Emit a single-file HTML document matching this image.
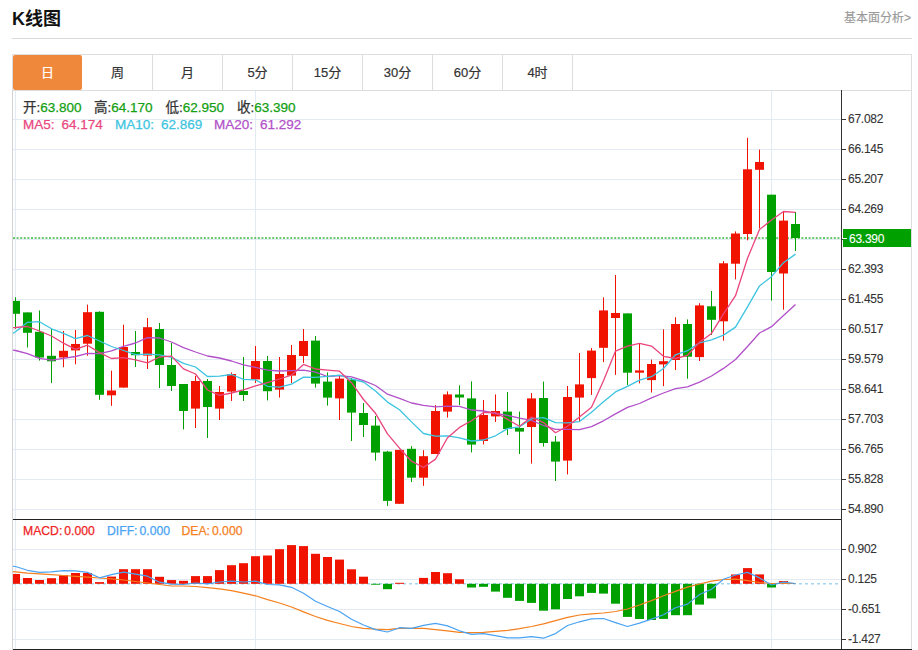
<!DOCTYPE html>
<html><head><meta charset="utf-8"><title>K线图</title>
<style>
*{margin:0;padding:0;box-sizing:border-box}
html,body{width:918px;height:650px;overflow:hidden;background:#fff}
body{position:relative;font-family:"Liberation Sans","Noto Sans CJK SC",sans-serif;color:#333}
.title{position:absolute;left:12px;top:7px;font-size:18px;font-weight:bold;color:#111;line-height:24px}
.more{position:absolute;left:844px;top:10px;font-size:12px;color:#999;line-height:16px;-webkit-text-stroke:0.15px currentColor}
.hr{position:absolute;left:12px;top:38px;width:900px;height:1px;background:#d9d9d9}
.tabs{position:absolute;left:12px;top:54px;width:900px;height:37px;border:1px solid #ddd}
.tab{position:absolute;top:0;width:70px;height:35px;border-right:1px solid #ddd;text-align:center;font-size:13px;line-height:35px;color:#333;-webkit-text-stroke:0.2px currentColor}
.tab.on{background:#f0883b;color:#fff;border-radius:2px;border-right:none;left:0;top:0;width:69px}
.frame{position:absolute;left:12px;top:90px;width:900px;height:560px;border-left:1px solid #d4d4d4;border-right:1px solid #ddd}
svg{position:absolute;left:0;top:0}
.ax{font-size:12px;letter-spacing:-0.25px;fill:#333;stroke:#333;stroke-width:0.1px;font-family:"Liberation Sans",sans-serif}
.info{position:absolute;left:23px;font-size:13.5px;white-space:pre;line-height:16px;-webkit-text-stroke:0.25px currentColor}
.g{color:#12a012}
</style></head><body>
<div class="title">K线图</div>
<div class="more">基本面分析&gt;</div>
<div class="hr"></div>
<div class="tabs"><div class="tab on" style="left:0px">日</div><div class="tab" style="left:70px">周</div><div class="tab" style="left:140px">月</div><div class="tab" style="left:210px">5分</div><div class="tab" style="left:280px">15分</div><div class="tab" style="left:350px">30分</div><div class="tab" style="left:420px">60分</div><div class="tab" style="left:490px">4时</div></div>
<div class="frame"></div>
<svg width="918" height="650" viewBox="0 0 918 650">
<line x1="13" y1="119.5" x2="841" y2="119.5" stroke="#e2ebf3"/>
<line x1="13" y1="149.5" x2="841" y2="149.5" stroke="#e2ebf3"/>
<line x1="13" y1="179.5" x2="841" y2="179.5" stroke="#e2ebf3"/>
<line x1="13" y1="209.5" x2="841" y2="209.5" stroke="#e2ebf3"/>
<line x1="13" y1="239.5" x2="841" y2="239.5" stroke="#e2ebf3"/>
<line x1="13" y1="269.5" x2="841" y2="269.5" stroke="#e2ebf3"/>
<line x1="13" y1="299.5" x2="841" y2="299.5" stroke="#e2ebf3"/>
<line x1="13" y1="329.5" x2="841" y2="329.5" stroke="#e2ebf3"/>
<line x1="13" y1="359.5" x2="841" y2="359.5" stroke="#e2ebf3"/>
<line x1="13" y1="389.5" x2="841" y2="389.5" stroke="#e2ebf3"/>
<line x1="13" y1="419.5" x2="841" y2="419.5" stroke="#e2ebf3"/>
<line x1="13" y1="449.5" x2="841" y2="449.5" stroke="#e2ebf3"/>
<line x1="13" y1="479.5" x2="841" y2="479.5" stroke="#e2ebf3"/>
<line x1="13" y1="509.5" x2="841" y2="509.5" stroke="#e2ebf3"/>
<line x1="13" y1="549.5" x2="841" y2="549.5" stroke="#e2ebf3"/>
<line x1="13" y1="579.5" x2="841" y2="579.5" stroke="#e2ebf3"/>
<line x1="13" y1="609.5" x2="841" y2="609.5" stroke="#e2ebf3"/>
<line x1="13" y1="639.5" x2="841" y2="639.5" stroke="#e2ebf3"/>
<line x1="15.5" y1="91" x2="15.5" y2="649" stroke="#e2ebf3"/>
<line x1="255.5" y1="91" x2="255.5" y2="649" stroke="#e2ebf3"/>
<line x1="771.5" y1="91" x2="771.5" y2="649" stroke="#e2ebf3"/>
<defs><clipPath id="cp"><rect x="13" y="91" width="828" height="428"/></clipPath><clipPath id="cp2"><rect x="13" y="520" width="828" height="129"/></clipPath></defs>
<line x1="13" y1="238" x2="841" y2="238" stroke="#3cb83c" stroke-width="1.6" stroke-dasharray="2 1.6"/>
<g clip-path="url(#cp)">
<rect x="15" y="297.2" width="1" height="31.6" fill="#00a000"/>
<rect x="11" y="300.9" width="9" height="12.9" fill="#00a000"/>
<rect x="27" y="312.4" width="1" height="35.1" fill="#00a000"/>
<rect x="23" y="312.4" width="9" height="20.4" fill="#00a000"/>
<rect x="39" y="310.5" width="1" height="50.1" fill="#00a000"/>
<rect x="35" y="331.8" width="9" height="25.7" fill="#00a000"/>
<rect x="51" y="329.1" width="1" height="53.8" fill="#00a000"/>
<rect x="47" y="355.8" width="9" height="5.5" fill="#00a000"/>
<rect x="63" y="331.0" width="1" height="36.2" fill="#ef1300"/>
<rect x="59" y="350.8" width="9" height="6.7" fill="#ef1300"/>
<rect x="75" y="330.0" width="1" height="34.3" fill="#ef1300"/>
<rect x="71" y="344.0" width="9" height="6.4" fill="#ef1300"/>
<rect x="87" y="304.7" width="1" height="51.1" fill="#ef1300"/>
<rect x="83" y="312.2" width="9" height="31.5" fill="#ef1300"/>
<rect x="99" y="311.3" width="1" height="88.5" fill="#00a000"/>
<rect x="95" y="311.8" width="9" height="83.0" fill="#00a000"/>
<rect x="111" y="370.7" width="1" height="35.1" fill="#ef1300"/>
<rect x="107" y="390.5" width="9" height="4.8" fill="#ef1300"/>
<rect x="123" y="324.7" width="1" height="62.9" fill="#ef1300"/>
<rect x="119" y="347.0" width="9" height="40.6" fill="#ef1300"/>
<rect x="135" y="331.0" width="1" height="36.0" fill="#00a000"/>
<rect x="131" y="352.0" width="9" height="3.2" fill="#00a000"/>
<rect x="147" y="318.0" width="1" height="51.0" fill="#ef1300"/>
<rect x="143" y="327.2" width="9" height="28.4" fill="#ef1300"/>
<rect x="159" y="323.0" width="1" height="65.0" fill="#00a000"/>
<rect x="155" y="329.0" width="9" height="36.0" fill="#00a000"/>
<rect x="171" y="343.0" width="1" height="48.0" fill="#00a000"/>
<rect x="167" y="365.0" width="9" height="21.0" fill="#00a000"/>
<rect x="183" y="384.0" width="1" height="45.4" fill="#00a000"/>
<rect x="179" y="384.0" width="9" height="27.0" fill="#00a000"/>
<rect x="195" y="376.0" width="1" height="52.0" fill="#ef1300"/>
<rect x="191" y="381.0" width="9" height="27.6" fill="#ef1300"/>
<rect x="207" y="379.0" width="1" height="59.0" fill="#00a000"/>
<rect x="203" y="381.0" width="9" height="26.0" fill="#00a000"/>
<rect x="219" y="386.0" width="1" height="34.0" fill="#ef1300"/>
<rect x="215" y="392.0" width="9" height="16.6" fill="#ef1300"/>
<rect x="231" y="372.4" width="1" height="28.6" fill="#ef1300"/>
<rect x="227" y="374.0" width="9" height="17.6" fill="#ef1300"/>
<rect x="243" y="357.0" width="1" height="44.0" fill="#00a000"/>
<rect x="239" y="391.0" width="9" height="4.0" fill="#00a000"/>
<rect x="255" y="346.0" width="1" height="37.0" fill="#ef1300"/>
<rect x="251" y="361.0" width="9" height="18.4" fill="#ef1300"/>
<rect x="267" y="356.0" width="1" height="44.4" fill="#00a000"/>
<rect x="263" y="361.0" width="9" height="30.2" fill="#00a000"/>
<rect x="279" y="357.0" width="1" height="40.6" fill="#ef1300"/>
<rect x="275" y="374.0" width="9" height="15.6" fill="#ef1300"/>
<rect x="291" y="345.0" width="1" height="38.0" fill="#ef1300"/>
<rect x="287" y="355.0" width="9" height="20.6" fill="#ef1300"/>
<rect x="303" y="329.0" width="1" height="34.0" fill="#ef1300"/>
<rect x="299" y="341.0" width="9" height="15.0" fill="#ef1300"/>
<rect x="315" y="336.0" width="1" height="51.6" fill="#00a000"/>
<rect x="311" y="340.6" width="9" height="43.0" fill="#00a000"/>
<rect x="327" y="372.4" width="1" height="33.2" fill="#00a000"/>
<rect x="323" y="381.6" width="9" height="16.0" fill="#00a000"/>
<rect x="339" y="376.0" width="1" height="44.0" fill="#ef1300"/>
<rect x="335" y="378.6" width="9" height="19.8" fill="#ef1300"/>
<rect x="351" y="378.0" width="1" height="63.0" fill="#00a000"/>
<rect x="347" y="379.6" width="9" height="33.0" fill="#00a000"/>
<rect x="363" y="403.0" width="1" height="34.0" fill="#00a000"/>
<rect x="359" y="413.0" width="9" height="12.0" fill="#00a000"/>
<rect x="375" y="416.0" width="1" height="44.6" fill="#00a000"/>
<rect x="371" y="425.6" width="9" height="27.0" fill="#00a000"/>
<rect x="387" y="450.8" width="1" height="55.1" fill="#00a000"/>
<rect x="383" y="451.6" width="9" height="49.3" fill="#00a000"/>
<rect x="399" y="449.9" width="1" height="53.9" fill="#ef1300"/>
<rect x="395" y="449.9" width="9" height="53.9" fill="#ef1300"/>
<rect x="411" y="446.2" width="1" height="35.8" fill="#00a000"/>
<rect x="407" y="448.8" width="9" height="28.9" fill="#00a000"/>
<rect x="423" y="450.2" width="1" height="35.6" fill="#ef1300"/>
<rect x="419" y="456.2" width="9" height="21.5" fill="#ef1300"/>
<rect x="435" y="405.0" width="1" height="49.0" fill="#ef1300"/>
<rect x="431" y="411.0" width="9" height="43.0" fill="#ef1300"/>
<rect x="447" y="391.4" width="1" height="26.2" fill="#ef1300"/>
<rect x="443" y="394.4" width="9" height="17.2" fill="#ef1300"/>
<rect x="459" y="385.3" width="1" height="19.7" fill="#00a000"/>
<rect x="455" y="394.5" width="9" height="3.0" fill="#00a000"/>
<rect x="471" y="381.4" width="1" height="71.0" fill="#00a000"/>
<rect x="467" y="398.4" width="9" height="46.2" fill="#00a000"/>
<rect x="483" y="400.0" width="1" height="44.4" fill="#ef1300"/>
<rect x="479" y="415.0" width="9" height="26.0" fill="#ef1300"/>
<rect x="495" y="394.4" width="1" height="27.6" fill="#ef1300"/>
<rect x="491" y="411.0" width="9" height="5.4" fill="#ef1300"/>
<rect x="507" y="392.0" width="1" height="43.0" fill="#00a000"/>
<rect x="503" y="411.6" width="9" height="17.4" fill="#00a000"/>
<rect x="519" y="411.6" width="1" height="42.4" fill="#00a000"/>
<rect x="515" y="428.0" width="9" height="3.6" fill="#00a000"/>
<rect x="531" y="393.0" width="1" height="70.6" fill="#ef1300"/>
<rect x="527" y="398.4" width="9" height="28.6" fill="#ef1300"/>
<rect x="543" y="381.6" width="1" height="65.0" fill="#00a000"/>
<rect x="539" y="398.0" width="9" height="45.0" fill="#00a000"/>
<rect x="555" y="436.0" width="1" height="45.0" fill="#00a000"/>
<rect x="551" y="441.6" width="9" height="20.0" fill="#00a000"/>
<rect x="567" y="386.0" width="1" height="88.4" fill="#ef1300"/>
<rect x="563" y="397.0" width="9" height="63.6" fill="#ef1300"/>
<rect x="579" y="353.0" width="1" height="68.6" fill="#ef1300"/>
<rect x="575" y="384.4" width="9" height="13.2" fill="#ef1300"/>
<rect x="591" y="348.1" width="1" height="46.8" fill="#ef1300"/>
<rect x="587" y="350.6" width="9" height="27.5" fill="#ef1300"/>
<rect x="603" y="297.4" width="1" height="64.7" fill="#ef1300"/>
<rect x="599" y="310.4" width="9" height="37.4" fill="#ef1300"/>
<rect x="615" y="275.0" width="1" height="99.9" fill="#ef1300"/>
<rect x="611" y="313.0" width="9" height="5.0" fill="#ef1300"/>
<rect x="627" y="313.4" width="1" height="71.8" fill="#00a000"/>
<rect x="623" y="313.4" width="9" height="59.3" fill="#00a000"/>
<rect x="639" y="343.3" width="1" height="40.1" fill="#ef1300"/>
<rect x="635" y="370.4" width="9" height="2.3" fill="#ef1300"/>
<rect x="651" y="359.6" width="1" height="33.0" fill="#ef1300"/>
<rect x="647" y="364.0" width="9" height="16.1" fill="#ef1300"/>
<rect x="663" y="329.3" width="1" height="56.8" fill="#ef1300"/>
<rect x="659" y="361.2" width="9" height="3.2" fill="#ef1300"/>
<rect x="675" y="317.2" width="1" height="52.8" fill="#ef1300"/>
<rect x="671" y="324.0" width="9" height="36.0" fill="#ef1300"/>
<rect x="687" y="319.4" width="1" height="59.3" fill="#00a000"/>
<rect x="683" y="324.0" width="9" height="32.7" fill="#00a000"/>
<rect x="699" y="303.2" width="1" height="57.8" fill="#ef1300"/>
<rect x="695" y="305.4" width="9" height="51.7" fill="#ef1300"/>
<rect x="711" y="291.0" width="1" height="44.0" fill="#00a000"/>
<rect x="707" y="306.3" width="9" height="13.5" fill="#00a000"/>
<rect x="723" y="261.1" width="1" height="79.6" fill="#ef1300"/>
<rect x="719" y="263.3" width="9" height="58.0" fill="#ef1300"/>
<rect x="735" y="231.4" width="1" height="47.9" fill="#ef1300"/>
<rect x="731" y="233.5" width="9" height="30.2" fill="#ef1300"/>
<rect x="747" y="137.8" width="1" height="102.5" fill="#ef1300"/>
<rect x="743" y="169.3" width="9" height="64.7" fill="#ef1300"/>
<rect x="759" y="149.6" width="1" height="78.8" fill="#ef1300"/>
<rect x="755" y="162.0" width="9" height="7.8" fill="#ef1300"/>
<rect x="771" y="194.7" width="1" height="106.0" fill="#00a000"/>
<rect x="767" y="194.7" width="9" height="77.3" fill="#00a000"/>
<rect x="783" y="211.2" width="1" height="98.5" fill="#ef1300"/>
<rect x="779" y="220.6" width="9" height="52.9" fill="#ef1300"/>
<rect x="795" y="212.0" width="1" height="39.0" fill="#00a000"/>
<rect x="791" y="224.0" width="9" height="14.0" fill="#00a000"/>
<polyline points="3.5,348.5 15.5,350.5 27.5,353.7 39.5,358.3 51.5,360.1 63.5,358.3 75.5,356.5 87.5,353.3 99.5,353.7 111.5,350.9 123.5,346.3 135.5,343.0 147.5,337.6 159.5,338.0 171.5,342.0 183.5,347.6 195.5,352.0 207.5,356.0 219.5,358.0 231.5,361.0 243.5,364.9 255.5,367.3 267.5,370.2 279.5,371.0 291.5,370.7 303.5,370.2 315.5,372.2 327.5,376.5 339.5,375.6 351.5,376.8 363.5,380.6 375.5,385.5 387.5,394.2 399.5,398.4 411.5,403.0 423.5,405.3 435.5,406.8 447.5,406.2 459.5,406.4 471.5,410.0 483.5,411.0 495.5,413.5 507.5,415.4 519.5,418.2 531.5,420.4 543.5,425.5 555.5,429.4 567.5,429.4 579.5,429.7 591.5,426.6 603.5,420.8 615.5,413.9 627.5,407.4 639.5,403.5 651.5,397.8 663.5,393.0 675.5,388.7 687.5,386.8 699.5,382.2 711.5,376.0 723.5,368.4 735.5,359.5 747.5,346.5 759.5,333.0 771.5,326.7 783.5,315.6 795.5,304.4" fill="none" stroke="#b250c9" stroke-width="1.3" stroke-linejoin="round"/>
<polyline points="3.5,339.0 15.5,331.8 27.5,322.3 39.5,321.7 51.5,328.8 63.5,333.4 75.5,338.6 87.5,335.5 99.5,341.0 111.5,346.5 123.5,350.5 135.5,354.6 147.5,354.1 159.5,354.8 171.5,357.3 183.5,363.3 195.5,367.0 207.5,376.5 219.5,376.2 231.5,374.5 243.5,379.3 255.5,379.9 267.5,386.3 279.5,387.2 291.5,384.1 303.5,377.1 315.5,377.4 327.5,376.4 339.5,375.1 351.5,379.0 363.5,382.0 375.5,391.1 387.5,402.1 399.5,409.7 411.5,421.9 423.5,433.5 435.5,436.2 447.5,435.9 459.5,437.8 471.5,441.0 483.5,440.0 495.5,435.8 507.5,428.6 519.5,426.8 531.5,418.9 543.5,417.6 555.5,422.6 567.5,422.9 579.5,421.6 591.5,412.2 603.5,401.7 615.5,391.9 627.5,386.3 639.5,380.1 651.5,376.7 663.5,368.5 675.5,354.8 687.5,350.7 699.5,342.8 711.5,339.8 723.5,335.1 735.5,327.1 747.5,306.8 759.5,285.9 771.5,276.7 783.5,262.7 795.5,254.1" fill="none" stroke="#3cc4e0" stroke-width="1.3" stroke-linejoin="round"/>
<polyline points="3.5,328.0 15.5,327.5 27.5,326.5 39.5,331.0 51.5,336.0 63.5,343.2 75.5,349.3 87.5,345.2 99.5,352.6 111.5,358.5 123.5,357.7 135.5,359.9 147.5,362.9 159.5,357.0 171.5,356.1 183.5,368.9 195.5,374.0 207.5,390.0 219.5,395.4 231.5,393.0 243.5,389.8 255.5,385.8 267.5,382.6 279.5,379.0 291.5,375.2 303.5,364.4 315.5,369.0 327.5,370.2 339.5,371.2 351.5,382.7 363.5,399.5 375.5,413.3 387.5,433.9 399.5,448.2 411.5,461.2 423.5,467.5 435.5,459.1 447.5,437.8 459.5,427.4 471.5,420.7 483.5,412.5 495.5,412.5 507.5,419.4 519.5,426.2 531.5,417.0 543.5,422.6 555.5,432.7 567.5,426.3 579.5,416.9 591.5,407.3 603.5,380.8 615.5,351.1 627.5,346.2 639.5,343.4 651.5,346.1 663.5,356.3 675.5,358.5 687.5,355.3 699.5,342.3 711.5,333.4 723.5,313.8 735.5,295.7 747.5,258.3 759.5,229.6 771.5,220.0 783.5,211.5 795.5,212.4" fill="none" stroke="#e9467e" stroke-width="1.3" stroke-linejoin="round"/>
</g>
<g clip-path="url(#cp2)">
<line x1="13" y1="583.8" x2="838" y2="583.8" stroke="#a6d6ef" stroke-width="1.5" stroke-dasharray="3 3"/>
<rect x="11" y="574.0" width="9" height="9.8" fill="#ef1300"/>
<rect x="23" y="578.0" width="9" height="5.8" fill="#ef1300"/>
<rect x="35" y="580.0" width="9" height="3.8" fill="#ef1300"/>
<rect x="47" y="578.2" width="9" height="5.6" fill="#ef1300"/>
<rect x="59" y="575.2" width="9" height="8.6" fill="#ef1300"/>
<rect x="71" y="573.0" width="9" height="10.8" fill="#ef1300"/>
<rect x="83" y="573.0" width="9" height="10.8" fill="#ef1300"/>
<rect x="95" y="582.1" width="9" height="1.7" fill="#ef1300"/>
<rect x="107" y="576.6" width="9" height="7.2" fill="#ef1300"/>
<rect x="119" y="569.2" width="9" height="14.6" fill="#ef1300"/>
<rect x="131" y="569.2" width="9" height="14.6" fill="#ef1300"/>
<rect x="143" y="569.2" width="9" height="14.6" fill="#ef1300"/>
<rect x="155" y="576.8" width="9" height="7.0" fill="#ef1300"/>
<rect x="167" y="580.1" width="9" height="3.7" fill="#ef1300"/>
<rect x="179" y="580.8" width="9" height="3.0" fill="#ef1300"/>
<rect x="191" y="576.1" width="9" height="7.7" fill="#ef1300"/>
<rect x="203" y="576.1" width="9" height="7.7" fill="#ef1300"/>
<rect x="215" y="570.1" width="9" height="13.7" fill="#ef1300"/>
<rect x="227" y="565.2" width="9" height="18.6" fill="#ef1300"/>
<rect x="239" y="563.2" width="9" height="20.6" fill="#ef1300"/>
<rect x="251" y="556.2" width="9" height="27.6" fill="#ef1300"/>
<rect x="263" y="555.5" width="9" height="28.3" fill="#ef1300"/>
<rect x="275" y="549.2" width="9" height="34.6" fill="#ef1300"/>
<rect x="287" y="545.1" width="9" height="38.7" fill="#ef1300"/>
<rect x="299" y="546.1" width="9" height="37.7" fill="#ef1300"/>
<rect x="311" y="553.8" width="9" height="30.0" fill="#ef1300"/>
<rect x="323" y="557.0" width="9" height="26.8" fill="#ef1300"/>
<rect x="335" y="559.6" width="9" height="24.2" fill="#ef1300"/>
<rect x="347" y="569.3" width="9" height="14.5" fill="#ef1300"/>
<rect x="359" y="576.7" width="9" height="7.1" fill="#ef1300"/>
<rect x="371" y="583.8" width="9" height="0.9" fill="#00a000"/>
<rect x="383" y="583.8" width="9" height="5.4" fill="#00a000"/>
<rect x="395" y="582.8" width="9" height="1.0" fill="#ef1300"/>
<rect x="419" y="577.9" width="9" height="5.9" fill="#ef1300"/>
<rect x="431" y="572.0" width="9" height="11.8" fill="#ef1300"/>
<rect x="443" y="573.2" width="9" height="10.6" fill="#ef1300"/>
<rect x="455" y="579.3" width="9" height="4.5" fill="#ef1300"/>
<rect x="467" y="583.8" width="9" height="3.7" fill="#00a000"/>
<rect x="479" y="583.8" width="9" height="3.0" fill="#00a000"/>
<rect x="491" y="583.8" width="9" height="7.8" fill="#00a000"/>
<rect x="503" y="583.8" width="9" height="14.0" fill="#00a000"/>
<rect x="515" y="583.8" width="9" height="17.1" fill="#00a000"/>
<rect x="527" y="583.8" width="9" height="19.1" fill="#00a000"/>
<rect x="539" y="583.8" width="9" height="26.9" fill="#00a000"/>
<rect x="551" y="583.8" width="9" height="25.5" fill="#00a000"/>
<rect x="563" y="583.8" width="9" height="15.2" fill="#00a000"/>
<rect x="575" y="583.8" width="9" height="12.5" fill="#00a000"/>
<rect x="587" y="583.8" width="9" height="9.1" fill="#00a000"/>
<rect x="599" y="583.8" width="9" height="9.8" fill="#00a000"/>
<rect x="611" y="583.8" width="9" height="19.9" fill="#00a000"/>
<rect x="623" y="583.8" width="9" height="33.1" fill="#00a000"/>
<rect x="635" y="583.8" width="9" height="35.2" fill="#00a000"/>
<rect x="647" y="583.8" width="9" height="36.2" fill="#00a000"/>
<rect x="659" y="583.8" width="9" height="35.1" fill="#00a000"/>
<rect x="671" y="583.8" width="9" height="31.4" fill="#00a000"/>
<rect x="683" y="583.8" width="9" height="31.4" fill="#00a000"/>
<rect x="695" y="583.8" width="9" height="20.8" fill="#00a000"/>
<rect x="707" y="583.8" width="9" height="14.6" fill="#00a000"/>
<rect x="731" y="574.5" width="9" height="9.3" fill="#ef1300"/>
<rect x="743" y="568.1" width="9" height="15.7" fill="#ef1300"/>
<rect x="755" y="574.4" width="9" height="9.4" fill="#ef1300"/>
<rect x="767" y="583.8" width="9" height="3.7" fill="#00a000"/>
<rect x="779" y="581.1" width="9" height="2.7" fill="#ef1300"/>
<polyline points="3.5,571.3 15.5,571.8 27.5,573.1 39.5,573.8 51.5,574.6 63.5,575.5 75.5,576.3 87.5,577.2 99.5,578.0 111.5,578.9 123.5,580.0 135.5,581.5 147.5,583.0 159.5,584.5 171.5,586.0 183.5,586.0 195.5,586.5 207.5,587.6 219.5,588.8 231.5,590.7 243.5,593.2 255.5,595.8 267.5,599.6 279.5,603.0 291.5,607.0 303.5,611.9 315.5,616.5 327.5,620.4 339.5,623.5 351.5,626.5 363.5,628.4 375.5,629.2 387.5,629.6 399.5,628.3 411.5,628.3 423.5,628.3 435.5,629.6 447.5,630.8 459.5,632.4 471.5,632.7 483.5,632.4 495.5,631.4 507.5,630.4 519.5,628.7 531.5,626.5 543.5,623.8 555.5,620.6 567.5,617.3 579.5,615.0 591.5,613.8 603.5,613.0 615.5,611.5 627.5,609.0 639.5,605.0 651.5,600.6 663.5,595.7 675.5,591.4 687.5,587.1 699.5,584.0 711.5,581.2 723.5,579.5 735.5,579.1 747.5,580.6 759.5,582.5 771.5,583.5 783.5,583.3 795.5,583.5" fill="none" stroke="#f5801e" stroke-width="1.2" stroke-linejoin="round"/>
<polyline points="3.5,565.8 15.5,566.5 27.5,570.3 39.5,572.4 51.5,571.8 63.5,570.7 75.5,570.9 87.5,572.4 99.5,577.8 111.5,574.7 123.5,572.2 135.5,574.2 147.5,576.2 159.5,582.2 171.5,584.2 183.5,584.5 195.5,583.0 207.5,583.9 219.5,582.0 231.5,581.2 243.5,582.0 255.5,581.2 267.5,584.5 279.5,584.8 291.5,587.3 303.5,593.2 315.5,601.2 327.5,606.5 339.5,611.5 351.5,619.3 363.5,625.0 375.5,629.6 387.5,632.0 399.5,627.7 411.5,628.3 423.5,625.3 435.5,623.4 447.5,625.9 459.5,630.8 471.5,634.3 483.5,633.6 495.5,635.7 507.5,637.8 519.5,637.8 531.5,636.6 543.5,638.2 555.5,633.6 567.5,625.5 579.5,621.8 591.5,618.9 603.5,618.5 615.5,622.6 627.5,626.5 639.5,623.1 651.5,619.1 663.5,614.8 675.5,607.8 687.5,604.1 699.5,594.5 711.5,589.3 723.5,579.2 735.5,575.0 747.5,572.4 759.5,577.9 771.5,585.0 783.5,582.2 795.5,583.5" fill="none" stroke="#4aa3f2" stroke-width="1.2" stroke-linejoin="round"/>
</g>
<line x1="841.5" y1="90" x2="841.5" y2="650" stroke="#333"/>
<line x1="13" y1="519.5" x2="841" y2="519.5" stroke="#222"/>
<line x1="13" y1="649.5" x2="912" y2="649.5" stroke="#222"/>
<line x1="842" y1="119.5" x2="846" y2="119.5" stroke="#333"/>
<text x="848" y="123" class="ax">67.082</text>
<line x1="842" y1="149.5" x2="846" y2="149.5" stroke="#333"/>
<text x="848" y="153" class="ax">66.145</text>
<line x1="842" y1="179.5" x2="846" y2="179.5" stroke="#333"/>
<text x="848" y="183" class="ax">65.207</text>
<line x1="842" y1="209.5" x2="846" y2="209.5" stroke="#333"/>
<text x="848" y="213" class="ax">64.269</text>
<line x1="842" y1="239.5" x2="846" y2="239.5" stroke="#333"/>
<line x1="842" y1="269.5" x2="846" y2="269.5" stroke="#333"/>
<text x="848" y="273" class="ax">62.393</text>
<line x1="842" y1="299.5" x2="846" y2="299.5" stroke="#333"/>
<text x="848" y="303" class="ax">61.455</text>
<line x1="842" y1="329.5" x2="846" y2="329.5" stroke="#333"/>
<text x="848" y="333" class="ax">60.517</text>
<line x1="842" y1="359.5" x2="846" y2="359.5" stroke="#333"/>
<text x="848" y="363" class="ax">59.579</text>
<line x1="842" y1="389.5" x2="846" y2="389.5" stroke="#333"/>
<text x="848" y="393" class="ax">58.641</text>
<line x1="842" y1="419.5" x2="846" y2="419.5" stroke="#333"/>
<text x="848" y="423" class="ax">57.703</text>
<line x1="842" y1="449.5" x2="846" y2="449.5" stroke="#333"/>
<text x="848" y="453" class="ax">56.765</text>
<line x1="842" y1="479.5" x2="846" y2="479.5" stroke="#333"/>
<text x="848" y="483" class="ax">55.828</text>
<line x1="842" y1="509.5" x2="846" y2="509.5" stroke="#333"/>
<text x="848" y="513" class="ax">54.890</text>
<line x1="842" y1="549.5" x2="846" y2="549.5" stroke="#333"/>
<text x="848" y="553" class="ax">0.902</text>
<line x1="842" y1="579.5" x2="846" y2="579.5" stroke="#333"/>
<text x="848" y="583" class="ax">0.125</text>
<line x1="842" y1="609.5" x2="846" y2="609.5" stroke="#333"/>
<text x="848" y="613" class="ax">-0.651</text>
<line x1="842" y1="639.5" x2="846" y2="639.5" stroke="#333"/>
<text x="848" y="643" class="ax">-1.427</text>
<rect x="843" y="229" width="68" height="18" fill="#00a000"/>
<line x1="843" y1="238.5" x2="847" y2="238.5" stroke="#fff"/>
<text x="849" y="242.5" class="ax" style="fill:#fff;stroke:#fff">63.390</text>
</svg>
<div class="info" style="top:99.5px;left:23px">开:<span class="g">63.800</span></div>
<div class="info" style="top:99.5px;left:94px">高:<span class="g">64.170</span></div>
<div class="info" style="top:99.5px;left:165.5px">低:<span class="g">62.950</span></div>
<div class="info" style="top:99.5px;left:237px">收:<span class="g">63.390</span></div>
<div class="info" style="top:117.4px;left:23px;color:#e9467e">MA5:<span style="margin-left:7px">64.174</span></div>
<div class="info" style="top:117.4px;left:115px;color:#3cc4e0">MA10:<span style="margin-left:7px">62.869</span></div>
<div class="info" style="top:117.4px;left:214px;color:#b250c9">MA20:<span style="margin-left:7px">61.292</span></div>
<div class="info" style="font-size:12.2px;top:523px;left:23px;color:#ee2424">MACD:<span style="margin-left:2px">0.000</span></div>
<div class="info" style="font-size:12.2px;top:523px;left:107px;color:#4aa3f2">DIFF:<span style="margin-left:2px">0.000</span></div>
<div class="info" style="font-size:12.2px;top:523px;left:181.5px;color:#f5801e">DEA:<span style="margin-left:2px">0.000</span></div>
</body></html>
